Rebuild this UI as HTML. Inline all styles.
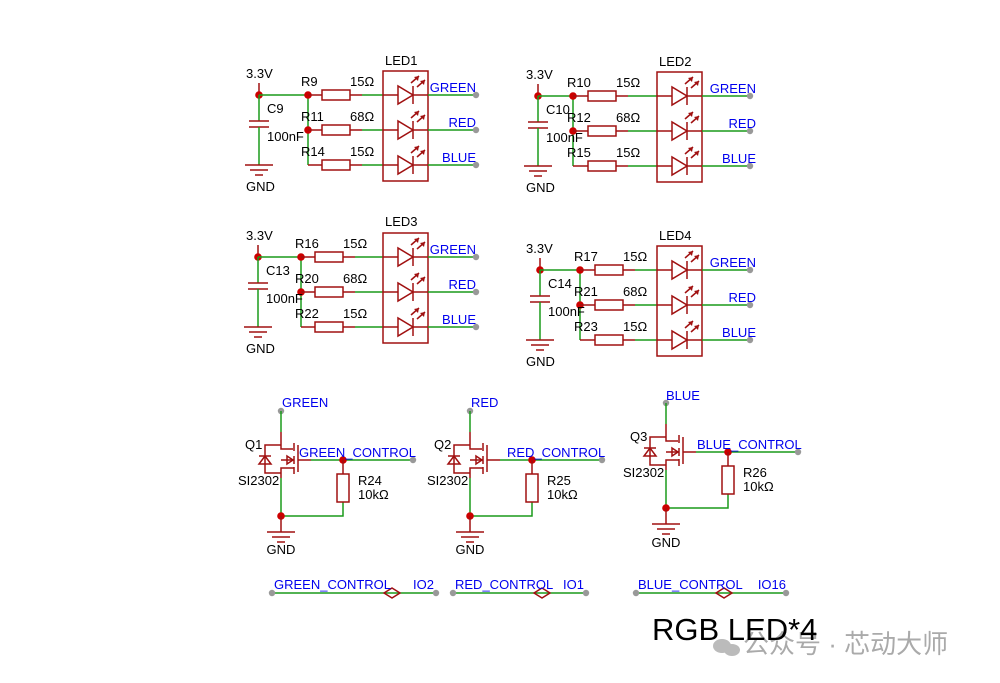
<!DOCTYPE html>
<html><head><meta charset="utf-8"><style>
html,body{margin:0;padding:0;background:#fff;}
svg{display:block;}
text{font-family:"Liberation Sans",Arial,sans-serif;font-size:13px;fill:#000;}
.b{fill:#0000ee;}
.r{stroke:#a01010;stroke-width:1.5;fill:none;}
.g{stroke:#1a9a1a;stroke-width:1.5;fill:none;}
</style></head><body>
<svg width="1000" height="683" viewBox="0 0 1000 683" xmlns="http://www.w3.org/2000/svg">
<defs>
<g id="arr"><line x1="0" y1="0" x2="8" y2="-7" class="r"/><path d="M8,-7 L3,-6 L7,-2 Z" fill="#a01010"/></g>
<g id="led">
 <rect x="0" y="-24" width="45" height="110" class="r"/>
 <g id="drow">
  <line x1="0" y1="0" x2="15" y2="0" class="r"/>
  <path d="M15,-9 L15,9 L30,0 Z" class="r"/>
  <line x1="30" y1="-9" x2="30" y2="9" class="r"/>
  <line x1="30" y1="0" x2="45" y2="0" class="r"/>
  <line x1="45" y1="0" x2="93" y2="0" class="g"/>
  <circle cx="93" cy="0" r="3.2" fill="#999"/>
  <use href="#arr" x="28" y="-12"/>
  <use href="#arr" x="34" y="-8"/>
 </g>
 <use href="#drow" y="35"/>
 <use href="#drow" y="70"/>
</g>
<g id="res"><rect x="0" y="-5" width="28" height="10" class="r"/><line x1="28" y1="0" x2="40" y2="0" class="r"/></g>
<g id="gnd"><line x1="-14" y1="0" x2="14" y2="0" class="r"/><line x1="-9" y1="5" x2="9" y2="5" class="r"/><line x1="-4" y1="10" x2="4" y2="10" class="r"/></g>
<g id="cap">
 <line x1="0" y1="-12" x2="0" y2="0" class="r"/>
 <circle cx="0" cy="0" r="3.8" fill="#c00"/>
 <line x1="0" y1="0" x2="0" y2="26" class="g"/>
 <line x1="-10" y1="26" x2="10" y2="26" class="r"/>
 <line x1="-10" y1="32" x2="10" y2="32" class="r"/>
 <line x1="0" y1="32" x2="0" y2="70" class="g"/>
 <use href="#gnd" y="70"/>
</g>
<g id="q">
 <circle cx="0" cy="0" r="3.2" fill="#999"/>
 <line x1="0" y1="0" x2="0" y2="21" class="g"/>
 <path d="M0,21 L0,38 L12,38" class="r"/>
 <line x1="13" y1="32" x2="13" y2="40" class="r"/><line x1="13" y1="45" x2="13" y2="53" class="r"/><line x1="13" y1="56" x2="13" y2="63" class="r"/>
 <line x1="17" y1="34" x2="17" y2="61" class="r"/>
 <line x1="17" y1="49" x2="30" y2="49" class="r"/>
 <line x1="30" y1="49" x2="132" y2="49" class="g"/>
 <circle cx="132" cy="49" r="3.2" fill="#999"/>
 <circle cx="62" cy="49" r="3.8" fill="#c00"/>
 <path d="M13,57 L0,57 L0,67" class="r"/>
 <path d="M0,49 L13,49" class="r"/><path d="M6,45 L6,53 L12,49 Z" class="r"/>
 <path d="M0,34 L-16,34 L-16,62 L0,62" class="r"/>
 <path d="M-22,53 L-10,53 L-16,45 Z" class="r"/><line x1="-22" y1="45" x2="-10" y2="45" class="r"/>
 <line x1="0" y1="67" x2="0" y2="105" class="g"/>
 <path d="M0,105 L62,105 L62,91" class="g"/>
 <line x1="62" y1="49" x2="62" y2="63" class="r"/>
 <rect x="56" y="63" width="12" height="28" class="r"/>
 <circle cx="0" cy="105" r="3.8" fill="#c00"/>
 <line x1="0" y1="105" x2="0" y2="121" class="r"/>
 <use href="#gnd" y="121"/>
</g>
</defs>

<!-- Block 1 -->
<use href="#cap" x="259" y="95"/>
<line x1="259" y1="95" x2="308" y2="95" class="g"/>
<line x1="308" y1="95" x2="308" y2="165" class="g"/>
<circle cx="308" cy="95" r="3.8" fill="#c00"/><circle cx="308" cy="130" r="3.8" fill="#c00"/>
<line x1="308" y1="95" x2="322" y2="95" class="r"/><line x1="308" y1="130" x2="322" y2="130" class="r"/><line x1="308" y1="165" x2="322" y2="165" class="r"/>
<use href="#res" x="322" y="95"/><use href="#res" x="322" y="130"/><use href="#res" x="322" y="165"/>
<line x1="362" y1="95" x2="383" y2="95" class="g"/><line x1="362" y1="130" x2="383" y2="130" class="g"/><line x1="362" y1="165" x2="383" y2="165" class="g"/>
<use href="#led" x="383" y="95"/>
<text x="246" y="78">3.3V</text><text x="267" y="113">C9</text><text x="267" y="141">100nF</text><text x="246" y="191">GND</text>
<text x="301" y="86">R9</text><text x="301" y="121">R11</text><text x="301" y="156">R14</text>
<text x="350" y="86">15Ω</text><text x="350" y="121">68Ω</text><text x="350" y="156">15Ω</text>
<text x="385" y="65">LED1</text>
<text class="b" x="476" y="92" text-anchor="end">GREEN</text><text class="b" x="476" y="127" text-anchor="end">RED</text><text class="b" x="476" y="162" text-anchor="end">BLUE</text>

<!-- Block 2 -->
<use href="#cap" x="538" y="96"/>
<line x1="538" y1="96" x2="573" y2="96" class="g"/>
<line x1="573" y1="96" x2="573" y2="166" class="g"/>
<circle cx="573" cy="96" r="3.8" fill="#c00"/><circle cx="573" cy="131" r="3.8" fill="#c00"/>
<line x1="573" y1="96" x2="588" y2="96" class="r"/><line x1="573" y1="131" x2="588" y2="131" class="r"/><line x1="573" y1="166" x2="588" y2="166" class="r"/>
<use href="#res" x="588" y="96"/><use href="#res" x="588" y="131"/><use href="#res" x="588" y="166"/>
<line x1="628" y1="96" x2="657" y2="96" class="g"/><line x1="628" y1="131" x2="657" y2="131" class="g"/><line x1="628" y1="166" x2="657" y2="166" class="g"/>
<use href="#led" x="657" y="96"/>
<text x="526" y="79">3.3V</text><text x="546" y="114">C10</text><text x="546" y="142">100nF</text><text x="526" y="192">GND</text>
<text x="567" y="87">R10</text><text x="567" y="122">R12</text><text x="567" y="157">R15</text>
<text x="616" y="87">15Ω</text><text x="616" y="122">68Ω</text><text x="616" y="157">15Ω</text>
<text x="659" y="66">LED2</text>
<text class="b" x="756" y="93" text-anchor="end">GREEN</text><text class="b" x="756" y="128" text-anchor="end">RED</text><text class="b" x="756" y="163" text-anchor="end">BLUE</text>

<!-- Block 3 -->
<use href="#cap" x="258" y="257"/>
<line x1="258" y1="257" x2="301" y2="257" class="g"/>
<line x1="301" y1="257" x2="301" y2="327" class="g"/>
<circle cx="301" cy="257" r="3.8" fill="#c00"/><circle cx="301" cy="292" r="3.8" fill="#c00"/>
<line x1="301" y1="257" x2="315" y2="257" class="r"/><line x1="301" y1="292" x2="315" y2="292" class="r"/><line x1="301" y1="327" x2="315" y2="327" class="r"/>
<use href="#res" x="315" y="257"/><use href="#res" x="315" y="292"/><use href="#res" x="315" y="327"/>
<line x1="355" y1="257" x2="383" y2="257" class="g"/><line x1="355" y1="292" x2="383" y2="292" class="g"/><line x1="355" y1="327" x2="383" y2="327" class="g"/>
<use href="#led" x="383" y="257"/>
<text x="246" y="240">3.3V</text><text x="266" y="275">C13</text><text x="266" y="303">100nF</text><text x="246" y="353">GND</text>
<text x="295" y="248">R16</text><text x="295" y="283">R20</text><text x="295" y="318">R22</text>
<text x="343" y="248">15Ω</text><text x="343" y="283">68Ω</text><text x="343" y="318">15Ω</text>
<text x="385" y="226">LED3</text>
<text class="b" x="476" y="254" text-anchor="end">GREEN</text><text class="b" x="476" y="289" text-anchor="end">RED</text><text class="b" x="476" y="324" text-anchor="end">BLUE</text>

<!-- Block 4 -->
<use href="#cap" x="540" y="270"/>
<line x1="540" y1="270" x2="580" y2="270" class="g"/>
<line x1="580" y1="270" x2="580" y2="340" class="g"/>
<circle cx="580" cy="270" r="3.8" fill="#c00"/><circle cx="580" cy="305" r="3.8" fill="#c00"/>
<line x1="580" y1="270" x2="595" y2="270" class="r"/><line x1="580" y1="305" x2="595" y2="305" class="r"/><line x1="580" y1="340" x2="595" y2="340" class="r"/>
<use href="#res" x="595" y="270"/><use href="#res" x="595" y="305"/><use href="#res" x="595" y="340"/>
<line x1="635" y1="270" x2="657" y2="270" class="g"/><line x1="635" y1="305" x2="657" y2="305" class="g"/><line x1="635" y1="340" x2="657" y2="340" class="g"/>
<use href="#led" x="657" y="270"/>
<text x="526" y="253">3.3V</text><text x="548" y="288">C14</text><text x="548" y="316">100nF</text><text x="526" y="366">GND</text>
<text x="574" y="261">R17</text><text x="574" y="296">R21</text><text x="574" y="331">R23</text>
<text x="623" y="261">15Ω</text><text x="623" y="296">68Ω</text><text x="623" y="331">15Ω</text>
<text x="659" y="240">LED4</text>
<text class="b" x="756" y="267" text-anchor="end">GREEN</text><text class="b" x="756" y="302" text-anchor="end">RED</text><text class="b" x="756" y="337" text-anchor="end">BLUE</text>

<!-- Transistors -->
<use href="#q" x="281" y="411"/>
<text class="b" x="282" y="407">GREEN</text><text x="245" y="449">Q1</text><text x="238" y="485">SI2302</text>
<text class="b" x="299" y="457">GREEN_CONTROL</text><text x="358" y="485">R24</text><text x="358" y="499">10kΩ</text>
<text x="281" y="554" text-anchor="middle">GND</text>

<use href="#q" x="470" y="411"/>
<text class="b" x="471" y="407">RED</text><text x="434" y="449">Q2</text><text x="427" y="485">SI2302</text>
<text class="b" x="507" y="457">RED_CONTROL</text><text x="547" y="485">R25</text><text x="547" y="499">10kΩ</text>
<text x="470" y="554" text-anchor="middle">GND</text>

<use href="#q" x="666" y="403"/>
<text class="b" x="666" y="400">BLUE</text><text x="630" y="441">Q3</text><text x="623" y="477">SI2302</text>
<text class="b" x="697" y="449">BLUE_CONTROL</text><text x="743" y="477">R26</text><text x="743" y="491">10kΩ</text>
<text x="666" y="547" text-anchor="middle">GND</text>

<!-- net labels -->
<g>
<line x1="272" y1="593" x2="436" y2="593" class="g"/>
<path d="M384,593 L392,588 L400,593 L392,598 Z" fill="#fff" class="r"/>
<circle cx="272" cy="593" r="3.2" fill="#999"/><circle cx="436" cy="593" r="3.2" fill="#999"/>
<text class="b" x="274" y="589">GREEN_CONTROL</text><text class="b" x="434" y="589" text-anchor="end">IO2</text>
</g>
<g>
<line x1="453" y1="593" x2="586" y2="593" class="g"/>
<path d="M534,593 L542,588 L550,593 L542,598 Z" fill="#fff" class="r"/>
<circle cx="453" cy="593" r="3.2" fill="#999"/><circle cx="586" cy="593" r="3.2" fill="#999"/>
<text class="b" x="455" y="589">RED_CONTROL</text><text class="b" x="584" y="589" text-anchor="end">IO1</text>
</g>
<g>
<line x1="636" y1="593" x2="786" y2="593" class="g"/>
<path d="M716,593 L724,588 L732,593 L724,598 Z" fill="#fff" class="r"/>
<circle cx="636" cy="593" r="3.2" fill="#999"/><circle cx="786" cy="593" r="3.2" fill="#999"/>
<text class="b" x="638" y="589">BLUE_CONTROL</text><text class="b" x="786" y="589" text-anchor="end">IO16</text>
</g>

<!-- footer -->
<ellipse cx="722" cy="646" rx="9" ry="7" fill="#bbb"/><ellipse cx="732" cy="650" rx="8" ry="6" fill="#bbb"/>
<text x="743" y="653" style="font-family:'Liberation Sans','Noto Sans CJK SC',sans-serif;font-size:26px;fill:#aaa">公众号 · 芯动大师</text>
<text x="652" y="640" style="font-size:31px">RGB LED*4</text>
</svg>
</body></html>
